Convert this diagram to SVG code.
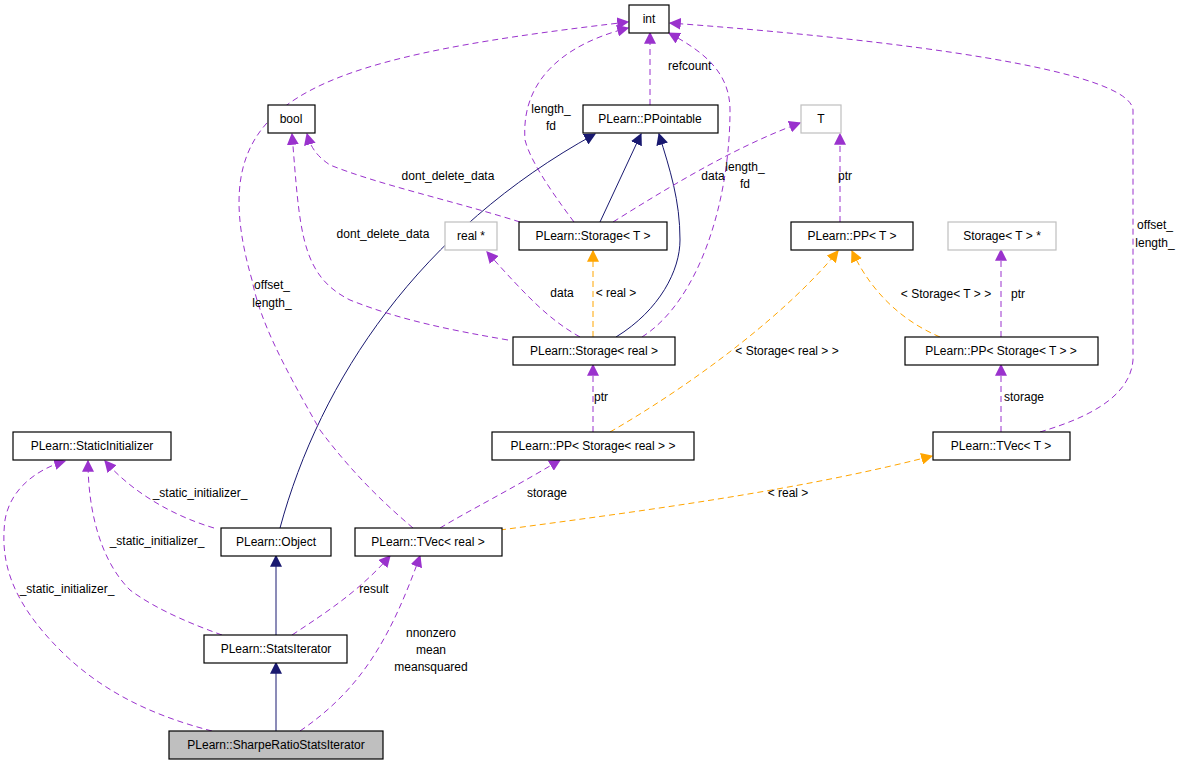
<svg xmlns="http://www.w3.org/2000/svg" width="1182" height="763" viewBox="0 0 1182 763">
<style>
.n rect{fill:#fff;stroke:#000;stroke-width:1.2}
.g rect{fill:#fff;stroke:#bfbfbf;stroke-width:1.2}
text{font-family:"Liberation Sans",Arial,sans-serif;font-size:12px;fill:#000}
.c text{text-anchor:middle}
.p{fill:none;stroke:#9a32cd;stroke-dasharray:6,4}
.o{fill:none;stroke:#ffa500;stroke-dasharray:6,4}
.b{fill:none;stroke:#191970}
</style>
<defs>
<marker id="mp" viewBox="0 0 10 10" refX="9" refY="5" markerWidth="12" markerHeight="12" markerUnits="userSpaceOnUse" orient="auto"><path d="M0,0L10,5L0,10z" fill="#9a32cd"/></marker>
<marker id="mo" viewBox="0 0 10 10" refX="9" refY="5" markerWidth="12" markerHeight="12" markerUnits="userSpaceOnUse" orient="auto"><path d="M0,0L10,5L0,10z" fill="#ffa500"/></marker>
<marker id="mb" viewBox="0 0 10 10" refX="9" refY="5" markerWidth="12" markerHeight="12" markerUnits="userSpaceOnUse" orient="auto"><path d="M0,0L10,5L0,10z" fill="#191970"/></marker>
</defs>
<rect width="1182" height="763" fill="#fff"/>
<g id="edges">
<path class="b" d="M276,731V663" marker-end="url(#mb)"/>
<path class="b" d="M276,635V556" marker-end="url(#mb)"/>
<path class="b" d="M280,528C320,380 420,230 595,134" marker-end="url(#mb)"/>
<path class="b" d="M600,222L641,134" marker-end="url(#mb)"/>
<path class="b" d="M616,337C660,310 680,270 680,240C680,200 670,170 659,134" marker-end="url(#mb)"/>
<path class="p" d="M212,731C150,715 100,690 60,650C10,600 0,560 5,520C10,490 35,470 65,461" marker-end="url(#mp)"/>
<path class="p" d="M222,635C180,620 150,605 130,590C100,560 88,510 88,461" marker-end="url(#mp)"/>
<path class="p" d="M214,528C170,515 130,490 105,461" marker-end="url(#mp)"/>
<path class="p" d="M292,635C330,610 360,590 390,556" marker-end="url(#mp)"/>
<path class="p" d="M300,731C360,690 390,640 420,556" marker-end="url(#mp)"/>
<path class="p" d="M413,528C380,500 350,470 320,430C280,360 260,320 252,280C200,100 300,60 628,22" marker-end="url(#mp)"/>
<path class="p" d="M440,528C470,510 510,490 560,460" marker-end="url(#mp)"/>
<path class="o" d="M500,530C650,510 800,490 932,456" marker-end="url(#mo)"/>
<path class="p" d="M593,432V365" marker-end="url(#mp)"/>
<path class="o" d="M610,432C700,380 790,310 838,251" marker-end="url(#mo)"/>
<path class="p" d="M1001,432V365" marker-end="url(#mp)"/>
<path class="o" d="M940,337C900,320 870,290 852,251" marker-end="url(#mo)"/>
<path class="p" d="M1001,337V250" marker-end="url(#mp)"/>
<path class="p" d="M840,222V134" marker-end="url(#mp)"/>
<path class="p" d="M1040,432C1080,420 1130,400 1133,360V110C1130,70 900,40 670,23" marker-end="url(#mp)"/>
<path class="p" d="M580,337C550,320 530,300 487,252" marker-end="url(#mp)"/>
<path class="o" d="M593,337V251" marker-end="url(#mo)"/>
<path class="p" d="M508,340C450,330 400,320 350,300C300,275 300,230 292,134" marker-end="url(#mp)"/>
<path class="p" d="M642,337C700,300 730,200 730,110C730,70 700,50 669,33" marker-end="url(#mp)"/>
<path class="p" d="M520,222C450,200 380,185 330,165C315,155 310,145 307,134" marker-end="url(#mp)"/>
<path class="p" d="M574,222C550,190 530,160 525,140C520,70 580,40 628,28" marker-end="url(#mp)"/>
<path class="p" d="M613,222C680,180 740,145 800,123" marker-end="url(#mp)"/>
<path class="p" d="M650,105V33" marker-end="url(#mp)"/>
</g>
<g class="c">
<text x="668" y="70" text-anchor="start" style="text-anchor:start">refcount</text>
<text x="551" y="113">length_</text><text x="551" y="130">fd</text>
<text x="448" y="180">dont_delete_data</text>
<text x="713" y="180">data</text>
<text x="745" y="171">length_</text><text x="745" y="188">fd</text>
<text x="383" y="238">dont_delete_data</text>
<text x="562" y="297">data</text>
<text x="616" y="297">&lt; real &gt;</text>
<text x="272" y="289">offset_</text><text x="272" y="307">length_</text>
<text x="845" y="180">ptr</text>
<text x="1155" y="229">offset_</text><text x="1155" y="247">length_</text>
<text x="946" y="298">&lt; Storage&lt; T &gt; &gt;</text>
<text x="1018" y="298">ptr</text>
<text x="787" y="355">&lt; Storage&lt; real &gt; &gt;</text>
<text x="601" y="401">ptr</text>
<text x="1024" y="401">storage</text>
<text x="200" y="497">_static_initializer_</text>
<text x="547" y="497">storage</text>
<text x="788" y="497">&lt; real &gt;</text>
<text x="157" y="545">_static_initializer_</text>
<text x="374" y="593">result</text>
<text x="67" y="593">_static_initializer_</text>
<text x="431" y="637">nnonzero</text><text x="431" y="654">mean</text><text x="431" y="671">meansquared</text>
</g>
<g id="int" class="n c"><rect x="629" y="5" width="40" height="28"/><text x="649" y="23">int</text></g>
<g id="bool" class="n c"><rect x="268" y="105" width="47" height="28"/><text x="291" y="123">bool</text></g>
<g id="ppointable" class="n c"><rect x="583" y="105" width="135" height="28"/><text x="650" y="123">PLearn::PPointable</text></g>
<g id="T" class="g c"><rect x="801" y="105" width="40" height="28"/><text x="821" y="123">T</text></g>
<g id="storageT" class="n c"><rect x="519" y="222" width="148" height="28"/><text x="593" y="240">PLearn::Storage&lt; T &gt;</text></g>
<g id="realptr" class="g c"><rect x="445" y="222" width="52" height="28"/><text x="471" y="240">real *</text></g>
<g id="ppT" class="n c"><rect x="791" y="222" width="122" height="28"/><text x="852" y="240">PLearn::PP&lt; T &gt;</text></g>
<g id="storageTptr" class="g c"><rect x="948" y="222" width="108" height="28"/><text x="1002" y="240">Storage&lt; T &gt; *</text></g>
<g id="storagereal" class="n c"><rect x="513" y="337" width="162" height="28"/><text x="594" y="355">PLearn::Storage&lt; real &gt;</text></g>
<g id="ppstorageT" class="n c"><rect x="905" y="337" width="193" height="28"/><text x="1001" y="355">PLearn::PP&lt; Storage&lt; T &gt; &gt;</text></g>
<g id="staticinit" class="n c"><rect x="13" y="432" width="158" height="28"/><text x="92" y="450">PLearn::StaticInitializer</text></g>
<g id="ppstoragereal" class="n c"><rect x="492" y="432" width="202" height="28"/><text x="593" y="450">PLearn::PP&lt; Storage&lt; real &gt; &gt;</text></g>
<g id="tvecT" class="n c"><rect x="933" y="432" width="137" height="28"/><text x="1001" y="450">PLearn::TVec&lt; T &gt;</text></g>
<g id="object" class="n c"><rect x="221" y="528" width="110" height="28"/><text x="276" y="546">PLearn::Object</text></g>
<g id="tvecreal" class="n c"><rect x="355" y="528" width="147" height="28"/><text x="428" y="546">PLearn::TVec&lt; real &gt;</text></g>
<g id="statsiter" class="n c"><rect x="204" y="635" width="143" height="28"/><text x="276" y="653">PLearn::StatsIterator</text></g>
<g id="sharpe" class="n c"><rect x="169" y="731" width="214" height="28" style="fill:#bfbfbf"/><text x="276" y="749">PLearn::SharpeRatioStatsIterator</text></g>
</svg>
